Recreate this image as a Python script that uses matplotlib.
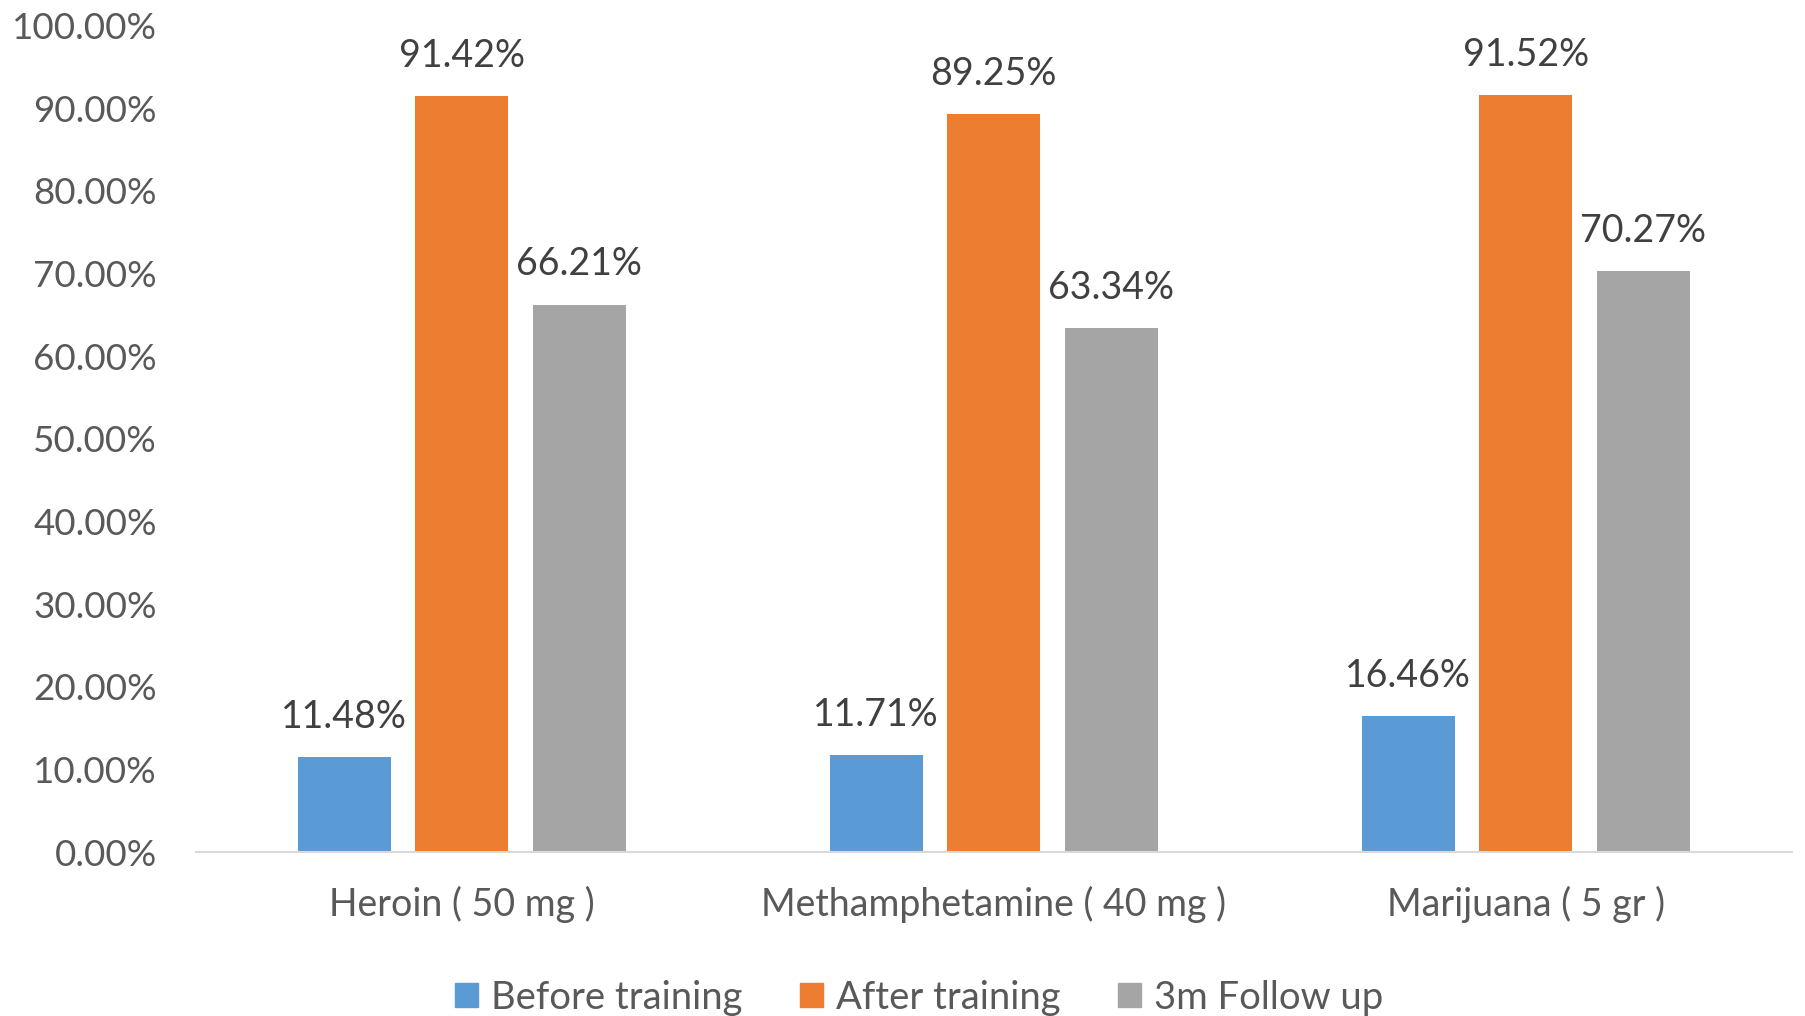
import numpy as np
import matplotlib.pyplot as plt
from matplotlib import ticker
from matplotlib.patches import Patch

plt.rcParams['font.family'] = ['Lato', 'DejaVu Sans']

# recall rates per drug amount
categories = ['Heroin ( 50 mg )', 'Methamphetamine ( 40 mg )', 'Marijuana ( 5 gr )']
series_names = ['Before training', 'After training', '3m Follow up']
before_training = [11.48, 11.71, 16.46]
after_training = [91.42, 89.25, 91.52]
follow_up = [66.21, 63.34, 70.27]

colors = ['#5B9BD5', '#ED7D31', '#A5A5A5']
text_color = '#595959'

fig = plt.figure(figsize=(18.06, 10.16), dpi=100)
ax = fig.add_axes([0.1085, 0.1614, 0.8835, 0.8136])

x = np.arange(len(categories))
width = 0.175
step = 0.221

for i, (name, values) in enumerate(zip(series_names, [before_training, after_training, follow_up])):
    pos = x + (i - 1) * step
    bars = ax.bar(pos, values, width, color=colors[i], label=name, zorder=2)
    for b, v in zip(bars, values):
        ax.annotate(f'{v:.2f}%', (b.get_x() + b.get_width() / 2, v),
                    xytext=(0, 16), textcoords='offset points',
                    ha='center', va='bottom', fontsize=27, color='#404040')

ax.set_xlim(-0.5, 2.5)
ax.set_ylim(0, 100)
ax.yaxis.set_major_locator(ticker.MultipleLocator(10))
ax.yaxis.set_major_formatter(ticker.FuncFormatter(lambda v, pos: f'{v:.2f}%'))
ax.set_xticks(x)
ax.set_xticklabels(categories)

for side in ['top', 'right', 'left']:
    ax.spines[side].set_visible(False)
ax.spines['bottom'].set_color('#D9D9D9')
ax.spines['bottom'].set_linewidth(1.5)

ax.tick_params(axis='y', length=0, pad=28, labelsize=26.5, labelcolor=text_color)
ax.tick_params(axis='x', length=0, pad=24, labelsize=27, labelcolor=text_color)

handles = [Patch(color=c, label=n) for c, n in zip(colors, series_names)]
fig.legend(handles=handles, loc='center', bbox_to_anchor=(0.509, 0.018), ncol=3,
           frameon=False, fontsize=27.5, labelcolor=text_color,
           handlelength=0.6, handleheight=0.6, handletextpad=0.35, columnspacing=1.5)

fig.savefig('out.png', dpi=100)
